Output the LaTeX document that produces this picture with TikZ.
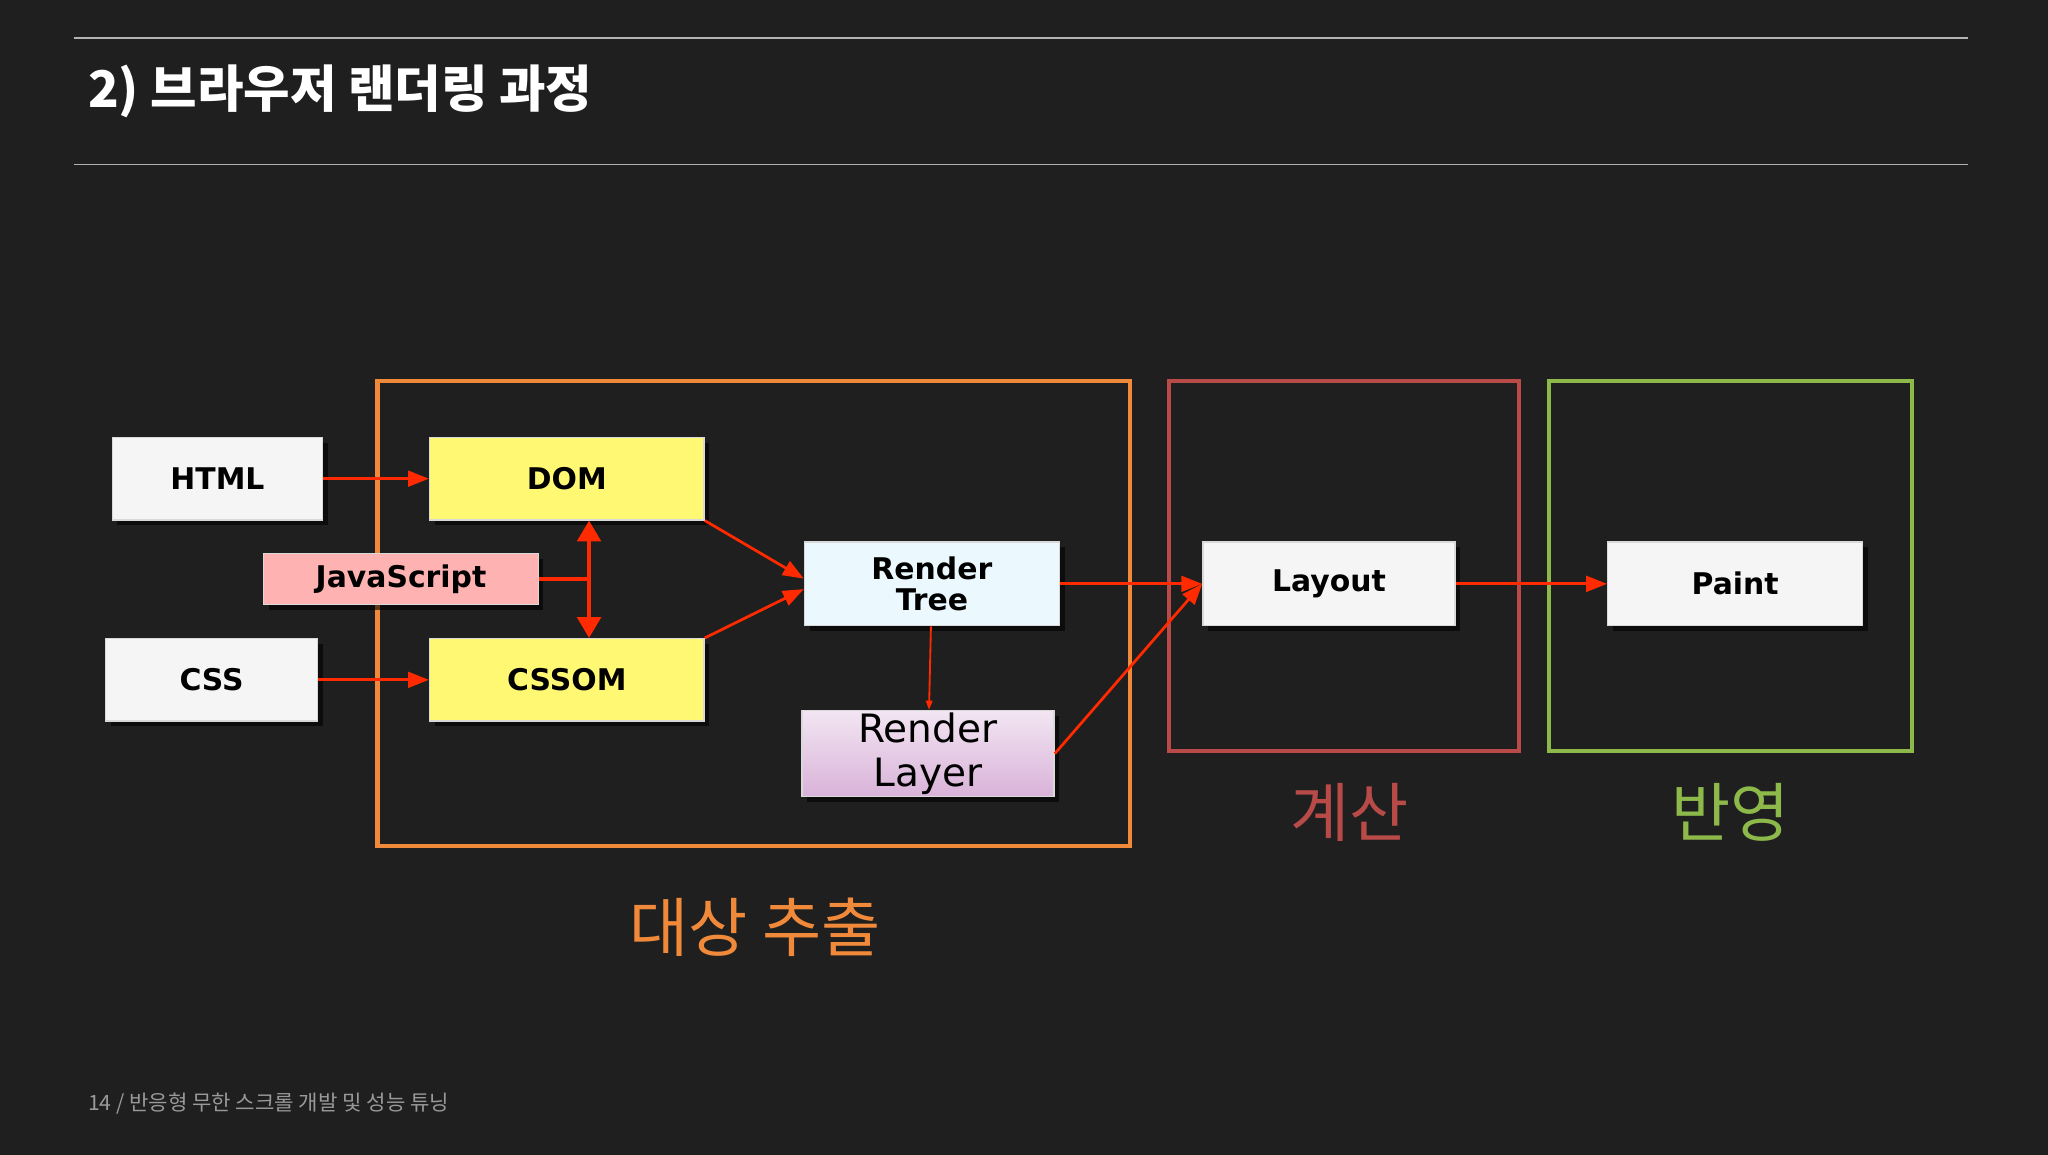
\documentclass[tikz,border=0pt]{standalone}
\usepackage{fontspec}
\setmainfont{DejaVu Sans}
\newfontfamily\kr{Noto Sans CJK KR}
\usetikzlibrary{arrows.meta,shadows}
\definecolor{bg}{HTML}{1F1F1F}
\definecolor{arr}{HTML}{FF2A00}
\definecolor{org}{HTML}{F08A3A}
\definecolor{rd}{HTML}{B84A48}
\definecolor{gr}{HTML}{8DB84A}
\begin{document}
\begin{tikzpicture}[x=0.01cm,y=-0.01cm,
 box/.style={draw=white!70!gray,line width=0.3pt,font=\bfseries\fontsize{6.5}{7}\selectfont,text=black,align=center,inner sep=0pt,drop shadow={shadow xshift=0.04cm,shadow yshift=-0.04cm,fill=black,opacity=0.6}},
 ar/.style={draw=arr,line width=0.6pt,-{Triangle[length=0.16cm,width=0.12cm]}},
 frame/.style={line width=0.9pt}]
\useasboundingbox[fill=bg] (0,0) rectangle (1568,884);
\draw[gray!60,line width=0.3pt] (57,29) -- (1507,29) (57,126) -- (1507,126);
\node[anchor=west,text=white,font=\kr\bfseries\fontsize{11}{13}\selectfont] (title) at (55,70) {2) 브라우저 랜더링 과정};
\node[anchor=west,text=gray!80,font=\kr\fontsize{4.6}{5}\selectfont] (foot) at (55,845) {14 / 반응형 무한 스크롤 개발 및 성능 튜닝};
\draw[frame,org] (289,292) rectangle (865,648);
\draw[frame,rd] (895,292) rectangle (1163,575);
\draw[frame,gr] (1186,292) rectangle (1464,575);
\node[text=org,font=\kr\fontsize{14}{16}\selectfont] (l1) at (578,710) {대상 추출};
\node[text=rd,font=\kr\fontsize{14}{16}\selectfont] (l2) at (1033,622) {계산};
\node[text=gr,font=\kr\fontsize{14}{16}\selectfont] (l3) at (1325,622) {반영};
\node[box,fill=white!92!gray,minimum width=1.61cm,minimum height=0.63cm] (html) at (166.5,366.5) {HTML};
\node[box,fill=white!92!gray,minimum width=1.62cm,minimum height=0.63cm] (css) at (162,520.5) {CSS};
\node[box,fill=yellow!55,minimum width=2.1cm,minimum height=0.63cm] (dom) at (434,366.5) {DOM};
\node[box,fill=yellow!55,minimum width=2.1cm,minimum height=0.63cm] (cssom) at (434,520.5) {CSSOM};
\node[box,fill=red!30,minimum width=2.1cm,minimum height=0.39cm] (js) at (307,443.5) {JavaScript};
\node[box,fill=cyan!8,minimum width=1.95cm,minimum height=0.64cm,font=\bfseries\fontsize{6.5}{6.8}\selectfont] (rt) at (713.5,447) {Render\\Tree};
\node[box,top color=violet!10,bottom color=violet!30,minimum width=1.93cm,minimum height=0.66cm,font=\fontsize{8.5}{9.5}\selectfont] (rl) at (710.5,577) {Render\\Layer};
\node[box,fill=white!92!gray,minimum width=1.93cm,minimum height=0.64cm] (lay) at (1017.5,447) {Layout};
\node[box,fill=white!92!gray,minimum width=1.95cm,minimum height=0.64cm] (paint) at (1328.5,447) {Paint};
\draw[ar] (html) -- (dom);
\draw[ar] (css) -- (cssom);
\draw[ar] (dom.south east) -- ([yshift=0.04cm]rt.west);
\draw[ar] (cssom.north east) -- ([yshift=-0.04cm]rt.west);
\draw[ar] (rt) -- (lay);
\draw[ar] (lay) -- (paint);
\draw[draw=arr,line width=0.4pt,-{Triangle[length=0.07cm,width=0.05cm]}] (rt) -- (rl);
\draw[ar] (rl.east) -- (lay.west);
\coordinate (jm) at (451,443.5);
\draw[draw=arr,line width=0.9pt] (js.east) -- (jm);
\draw[draw=arr,line width=0.9pt,{Triangle[length=0.16cm,width=0.18cm]}-{Triangle[length=0.16cm,width=0.18cm]}] (dom.south-|jm) -- (cssom.north-|jm);
\end{tikzpicture}
\end{document}
